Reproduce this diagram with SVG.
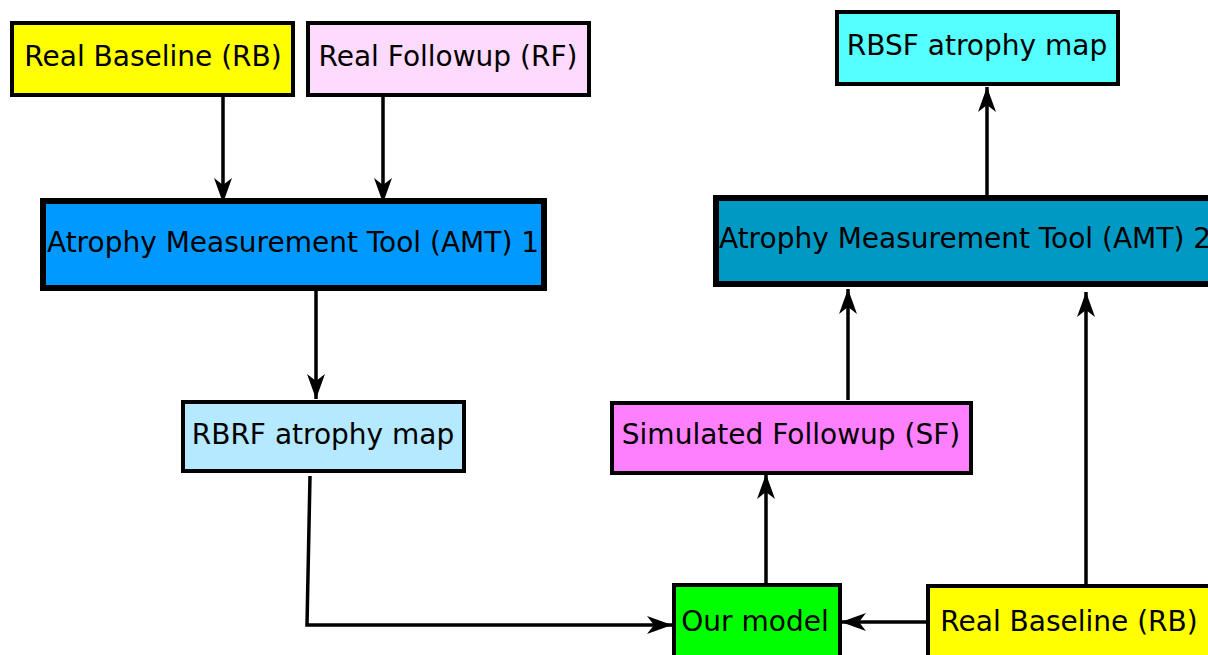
<svg xmlns="http://www.w3.org/2000/svg" width="1208" height="655" viewBox="0 0 1208 655">
<style>
.box{stroke:#000;stroke-width:4}
.big{stroke:#000;stroke-width:6}
.lbl{font-family:"DejaVu Sans",sans-serif;font-size:28px;fill:#000;text-anchor:middle}
.con{fill:none;stroke:#000;stroke-width:3.5;marker-end:url(#ah)}
</style>
<defs>
<marker id="ah" markerUnits="userSpaceOnUse" markerWidth="28" markerHeight="20" refX="25" refY="10" orient="auto" overflow="visible">
<path d="M25,10 L0,1 L7,10 L0,19 Z" fill="#000"/>
</marker>
</defs>
<rect width="1208" height="655" fill="#fff"/>
<g id="connectors">
<path class="con" d="M223,96 V203"/>
<path class="con" d="M383,96 V203"/>
<path class="con" d="M316,290 V399"/>
<path class="con" d="M310,476 L307,625 H672"/>
<path class="con" d="M766,584 V474"/>
<path class="con" d="M848,400 V289"/>
<path class="con" d="M1086,584 V292"/>
<path class="con" d="M987,196 V87"/>
<path class="con" d="M927,622 H841"/>
</g>
<g id="rb1"><rect class="box" x="12" y="23" width="281" height="72" fill="#ffff00"/><text class="lbl" x="153" y="66">Real Baseline (RB)</text></g>
<g id="rf"><rect class="box" x="308" y="23" width="281" height="72" fill="#ffdaff"/><text class="lbl" x="448" y="66">Real Followup (RF)</text></g>
<g id="amt1"><rect class="big" x="43" y="201" width="501" height="87" fill="#0099ff"/><text class="lbl" x="293" y="252">Atrophy Measurement Tool (AMT) 1</text></g>
<g id="rbrf"><rect class="box" x="183" y="402" width="281" height="69" fill="#b4e9ff"/><text class="lbl" x="323" y="444">RBRF atrophy map</text></g>
<g id="rbsf"><rect class="box" x="837" y="12" width="281" height="72" fill="#55ffff"/><text class="lbl" x="977" y="55">RBSF atrophy map</text></g>
<g id="amt2"><rect class="big" x="716" y="198" width="500" height="86" fill="#0099c4"/><text class="lbl" x="965" y="248">Atrophy Measurement Tool (AMT) 2</text></g>
<g id="sf"><rect class="box" x="612" y="403" width="359" height="70" fill="#ff80ff"/><text class="lbl" x="791" y="444">Simulated Followup (SF)</text></g>
<g id="model"><rect class="box" x="674" y="585" width="166" height="76" fill="#00ff00"/><text class="lbl" x="755" y="631">Our model</text></g>
<g id="rb2"><rect class="box" x="928" y="586" width="286" height="76" fill="#ffff00"/><text class="lbl" x="1069" y="631">Real Baseline (RB)</text></g>
</svg>
